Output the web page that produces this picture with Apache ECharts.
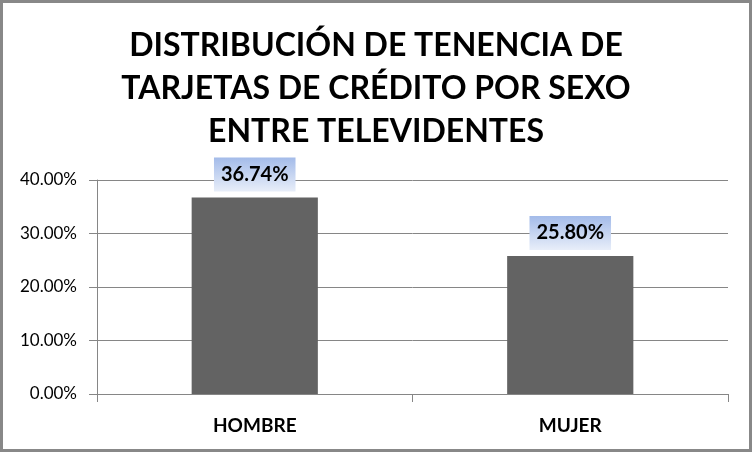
<!DOCTYPE html>
<html>
<head>
<meta charset="utf-8">
<script src="https://cdn.jsdelivr.net/npm/echarts@6/dist/echarts.min.js"></script>
<style>
  html, body { margin: 0; padding: 0; background: #fff; }
  #chart { width: 752px; height: 452px; }
</style>
</head>
<body>
<div id="chart"></div>
<script>
// datos del gráfico
const titleLines = ['DISTRIBUCIÓN DE TENENCIA DE', 'TARJETAS DE CRÉDITO POR SEXO', 'ENTRE TELEVIDENTES'];
const categories = ['HOMBRE', 'MUJER'];
const values = [36.74, 25.80];
const yMin = 0;
const yMax = 40;
const yStep = 10;

const gray = '#868686';

function makeOptions() {
    return {
        animation: false,
        title: {
            text: titleLines.join('\n'),
            left: 'center',
            top: 24,
            padding: 0,
            textStyle: {
                fontFamily: 'Lato',
                fontWeight: 'bold',
                fontSize: 32,
                lineHeight: 43,
                color: '#000'
            }
        },
        graphic: [{
            type: 'rect',
            shape: { x: 1.5, y: 1.5, width: 749, height: 449 },
            style: { fill: 'none', stroke: '#888', lineWidth: 3 },
            silent: true
        }],
        grid: { left: 97, right: 24, top: 180, bottom: 58 },
        xAxis: {
            type: 'category',
            data: categories,
            axisLine: { lineStyle: { color: gray, width: 1 } },
            axisTick: { show: true, length: 8, lineStyle: { color: gray } },
            axisLabel: {
                margin: 22,
                color: '#000',
                fontFamily: 'Lato',
                fontWeight: 'bold',
                fontSize: 19
            }
        },
        yAxis: {
            type: 'value',
            min: yMin,
            max: yMax,
            interval: yStep,
            axisLine: { show: true, lineStyle: { color: gray, width: 1 } },
            axisTick: { show: true, length: 8, lineStyle: { color: gray } },
            splitLine: { lineStyle: { color: gray, width: 1 } },
            axisLabel: {
                margin: 20,
                color: '#000',
                fontFamily: 'Lato',
                fontSize: 17,
                formatter: (v) => v.toFixed(2) + '%'
            }
        },
        series: [{
            type: 'bar',
            data: values,
            barWidth: '40%',
            itemStyle: { color: '#636363' },
            label: {
                show: true,
                position: 'top',
                distance: 6,
                formatter: (p) => p.value.toFixed(2) + '%',
                color: '#000',
                fontFamily: 'Lato',
                fontWeight: 'bold',
                fontSize: 20,
                lineHeight: 24,
                padding: [5, 7, 5, 7],
                backgroundColor: {
                    type: 'linear', x: 0, y: 0, x2: 0, y2: 1,
                    colorStops: [
                        { offset: 0, color: '#a3bbe9' },
                        { offset: 1, color: '#e8eef9' }
                    ]
                }
            }
        }]
    };
}

try {
    let chart = echarts.init(document.getElementById('chart'));
    chart.setOption(makeOptions());
} catch (err) {
    console.log(`Error drawing chart: ${err}`);
}
</script>
</body>
</html>
